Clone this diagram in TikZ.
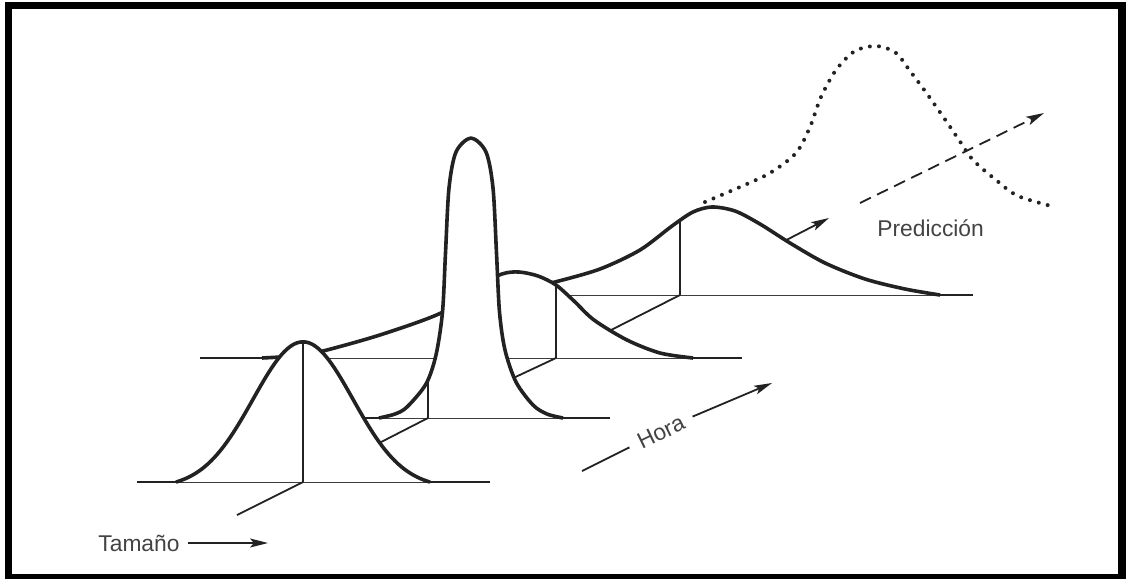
\documentclass[tikz,border=0pt]{standalone}
\usepackage{fontspec}
\setmainfont{Liberation Sans}
\usepackage{tikz}
\usetikzlibrary{arrows.meta}
\definecolor{ink}{HTML}{222222}
\newcommand{\slice}[5]{%
  \draw[axisline] (#3,#2) -- (#4,#2);
  \fill[white] plot #1 -- cycle;
  \begin{scope}
    \clip plot #1 -- cycle;
    \draw[axisline] (#5,#2) -- (#5,0);
  \end{scope}
  \draw[bell] plot #1;}

\begin{document}
\begin{tikzpicture}[x=0.5pt,y=-0.5pt,
  axisline/.style={line width=0.9pt,draw=ink},
  bell/.style={line width=1.8pt,draw=ink,line join=round},
  ar/.style={axisline,-{Stealth[length=9pt,width=4.5pt,inset=2pt]}},
  lbl/.style={font=\fontsize{11.4}{13}\selectfont,text=ink!85,inner sep=4pt}]
\useasboundingbox (0,0) rectangle (1126,579);
\fill[black] (5,2) rectangle (1126,579);
\fill[white] (12,9) rectangle (1118,574);

\coordinate (t0) at (237,515);
\coordinate (o1) at (303,482);
\coordinate (o2) at (428,418);
\coordinate (o3) at (556,358);
\coordinate (o4) at (680,295);
\coordinate (a4) at (829,218);
\coordinate (p0) at (860,203);
\coordinate (p1) at (1044,113);

% prediccion
\draw[ink,line width=2pt,line cap=round,dash pattern=on 0pt off 4.6pt]
  plot[smooth] coordinates {(705,202) (740,187) (770,173) (796,153) (810,127)
    (821,97) (836,70) (855,51) (877,46) (896,53) (910,71) (925,91) (944,118)
    (959,140) (973,160) (996,180) (1018,196) (1055,207)};
\draw[ar,dash pattern=on 6pt off 3.5pt] (p0) -- (p1);
\node[lbl,anchor=base west] (pred) at (869,236) {Predicción};
\draw[ar] (o4) -- (a4);

\slice{[smooth] coordinates {(470,295) (520,290) (555,282) (600,269) (640,250)
    (672,226) (693,212) (712,207) (735,211) (760,224) (790,243) (825,263)
    (865,279) (905,289) (940,295)}}{295}{510}{973}{680}
\draw[axisline] (o3) -- (o4);
\slice{[smooth] coordinates {(262,358) (300,355.5) (327,350) (383,334) (443,312)
    (475,287) (502,274) (519,272) (538,276) (556,285) (574,301) (594,320)
    (627,340) (660,353) (693,358)}}{358}{200}{742}{556}
\draw[axisline] (o2) -- (o3);
\slice{[smooth] coordinates {(379,418) (395,414) (407,407) (426,384) (436,355)
    (442.5,312) (445.5,253) (449,188) (456,152) (471,138) (486,152) (493,188)
    (496.5,253) (499.5,312) (505,350) (516,382) (533,405) (547,414) (563,418)}}{418}{340}{610}{428}
\draw[axisline] (o1) -- (o2);
\slice{[domain=176:430,samples=81] (\x,{482-146*(exp(-0.5*((\x-303)/50)^2)-0.04)})}{482}{137}{490}{303}
\draw[axisline] (t0) -- (o1);

\node[lbl,anchor=base west] (tam) at (90,551) {Tamaño};
\coordinate (tamTip) at (268,543);
\draw[ar] (tam.east |- tamTip) -- (tamTip);

\node[lbl,rotate=26,inner sep=5pt] (hora) at (661,432) {Hora};
\coordinate (h0) at (582,471);
\coordinate (h1) at (772,383);
\draw[axisline] (h0) -- (hora.west);
\draw[ar] (hora.east) -- (h1);
\end{tikzpicture}
\end{document}
